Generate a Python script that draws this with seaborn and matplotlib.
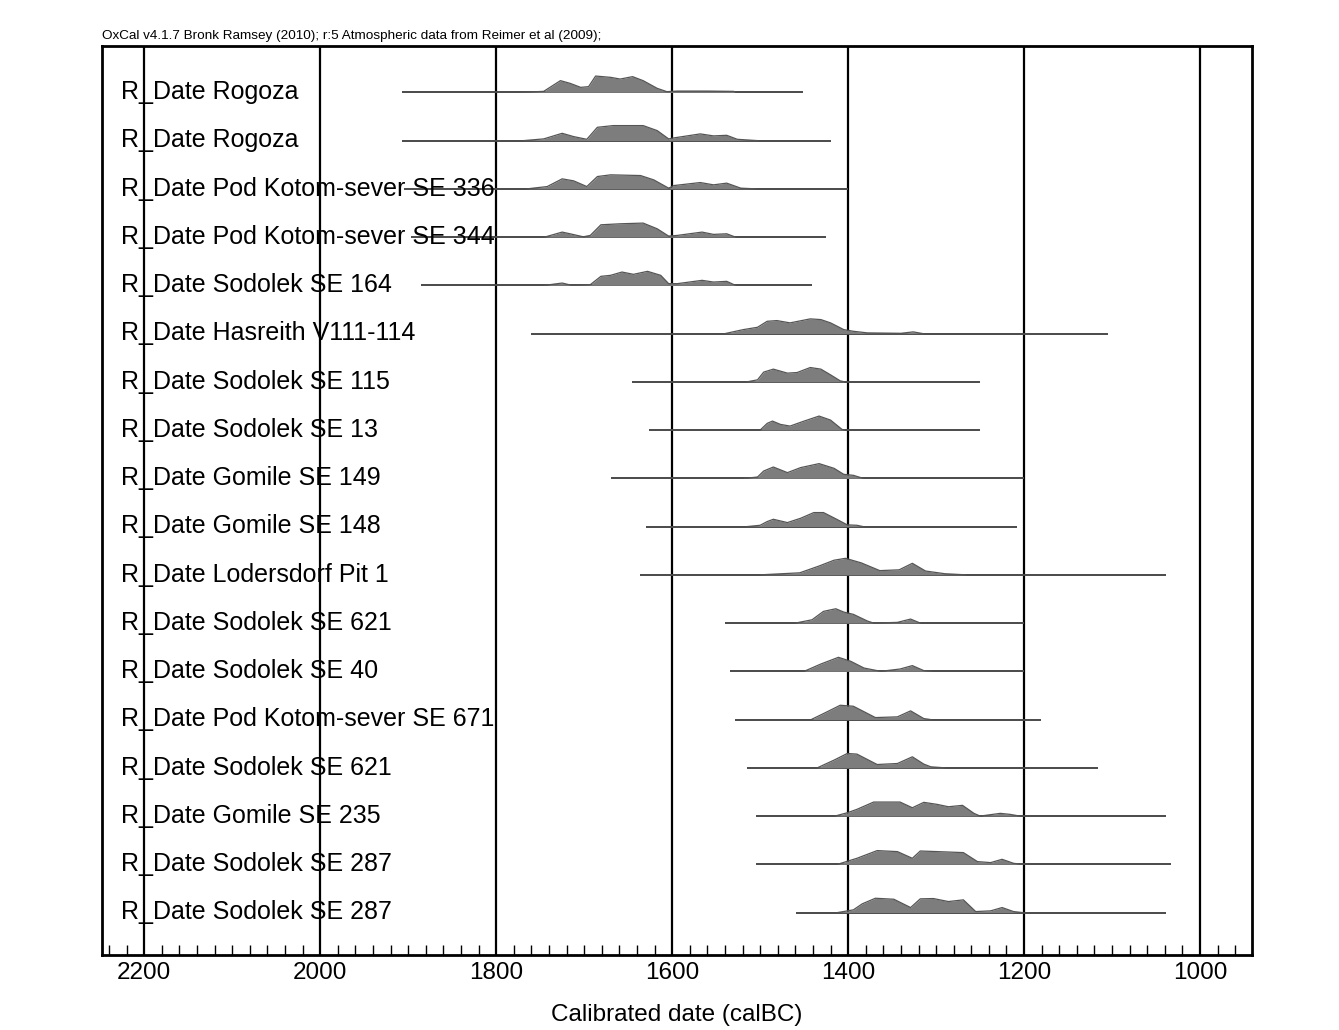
import matplotlib
matplotlib.use("Agg")
import matplotlib.pyplot as plt
import numpy as np
import pandas as pd
import seaborn as sns

sns.set_style("white")
plt.rcParams["font.family"] = ["Liberation Sans", "DejaVu Sans"]
plt.rcParams["text.color"] = "black"
plt.rcParams["xtick.color"] = "black"
plt.rcParams["axes.labelcolor"] = "black"

labels = ["R_Date Rogoza", "R_Date Rogoza", "R_Date Pod Kotom-sever SE 336",
          "R_Date Pod Kotom-sever SE 344", "R_Date Sodolek SE 164",
          "R_Date Hasreith V111-114", "R_Date Sodolek SE 115", "R_Date Sodolek SE 13",
          "R_Date Gomile SE 149", "R_Date Gomile SE 148", "R_Date Lodersdorf Pit 1",
          "R_Date Sodolek SE 621", "R_Date Sodolek SE 40", "R_Date Pod Kotom-sever SE 671",
          "R_Date Sodolek SE 621", "R_Date Gomile SE 235", "R_Date Sodolek SE 287",
          "R_Date Sodolek SE 287"]

# range of each calibrated date (calBC)
range_start = [1907, 1907, 1905, 1897, 1886, 1760, 1646, 1626, 1670, 1630, 1636,
               1540, 1534, 1529, 1515, 1505, 1505, 1459]
range_end = [1451, 1420, 1400, 1425, 1441, 1105, 1250, 1250, 1200, 1208, 1039,
             1200, 1200, 1181, 1116, 1039, 1033, 1039]

# probability distributions (relative heights)
curve_years = [
    [1772, 1746, 1727, 1716, 1704, 1695, 1687, 1670, 1659, 1645, 1633, 1617, 1606, 1594, 1560, 1530, 1528],
    [1769, 1746, 1725, 1712, 1697, 1685, 1667, 1633, 1617, 1604, 1598, 1568, 1553, 1538, 1526, 1503],
    [1765, 1742, 1725, 1712, 1697, 1685, 1670, 1636, 1621, 1604, 1598, 1568, 1553, 1538, 1522, 1505],
    [1745, 1725, 1716, 1701, 1693, 1681, 1659, 1633, 1617, 1604, 1594, 1566, 1553, 1538, 1528],
    [1745, 1725, 1714, 1693, 1681, 1670, 1657, 1644, 1628, 1613, 1604, 1594, 1566, 1553, 1538, 1528],
    [1540, 1519, 1503, 1492, 1481, 1466, 1443, 1431, 1420, 1405, 1394, 1378, 1340, 1326, 1315],
    [1515, 1503, 1496, 1485, 1469, 1458, 1443, 1431, 1420, 1409, 1404],
    [1500, 1492, 1486, 1477, 1466, 1450, 1433, 1420, 1407, 1404],
    [1518, 1503, 1496, 1485, 1469, 1454, 1433, 1416, 1405, 1394, 1383],
    [1515, 1500, 1492, 1485, 1469, 1454, 1439, 1428, 1413, 1401, 1390, 1383],
    [1500, 1455, 1433, 1416, 1403, 1385, 1364, 1342, 1327, 1312, 1290, 1266],
    [1460, 1441, 1428, 1414, 1405, 1394, 1378, 1371, 1344, 1329, 1318],
    [1450, 1431, 1411, 1397, 1382, 1363, 1341, 1327, 1314, 1305],
    [1442, 1424, 1409, 1394, 1369, 1344, 1329, 1314, 1306],
    [1435, 1416, 1401, 1390, 1367, 1344, 1327, 1314, 1306, 1290],
    [1415, 1401, 1390, 1371, 1341, 1327, 1314, 1299, 1286, 1270, 1257, 1250, 1227, 1216, 1205],
    [1412, 1390, 1367, 1344, 1327, 1318, 1299, 1269, 1253, 1238, 1225, 1212, 1202],
    [1412, 1394, 1384, 1369, 1348, 1329, 1318, 1303, 1286, 1269, 1255, 1238, 1225, 1212, 1202],
]
curve_dens = [
    [0, 1, 11.7, 9, 5, 5.7, 16.3, 15, 13.3, 15.7, 11.7, 4, 0.7, 1.3, 1.3, 1, 0],
    [0, 1.7, 7.3, 4, 1.3, 13.3, 15, 15, 10, 1.7, 2.7, 6.7, 4.7, 5.3, 1.3, 0],
    [0, 2.3, 10, 8, 2.3, 12.3, 14, 13.3, 9, 0.7, 3.3, 6.3, 4, 5.7, 0.7, 0],
    [0, 5, 3.3, 0.3, 1.7, 12.3, 13.3, 14, 8.3, 1, 1.7, 5, 2.7, 3.3, 0],
    [0, 2.3, 0, 0.7, 9, 10, 13.3, 11, 14, 10, 1.7, 1.7, 5, 3.3, 4, 0],
    [0, 4, 6.3, 12.3, 13, 10.7, 14.7, 14, 10.7, 4, 2.3, 0.7, 0.3, 1.7, 0],
    [0, 2, 9.7, 12.7, 8.7, 9.3, 14.3, 12.7, 7, 1, 0],
    [0, 6.7, 9, 5.7, 4, 9, 14, 10, 0.7, 0],
    [0, 1.3, 7.3, 11.3, 5.7, 10.7, 14.7, 10, 4, 3, 0],
    [0, 1.3, 5, 7.3, 4, 8.3, 14, 14, 7.3, 1.7, 1.3, 0],
    [0, 2, 8.8, 14.6, 16.5, 11.9, 4.2, 5, 11.5, 3.8, 1.1, 0],
    [0, 3.3, 11.7, 14.3, 11, 8.7, 2, 0, 0.7, 4, 0],
    [0, 7.3, 14, 10, 3.3, 0, 2.3, 5.7, 0.7, 0],
    [0, 7.7, 14.3, 13.3, 2, 2.7, 8.7, 1, 0],
    [0, 7.7, 14.3, 13.7, 3.3, 4.3, 11, 3.7, 1, 0],
    [0, 3.3, 6.7, 14, 14, 8.3, 13.7, 11.7, 9.3, 10.7, 2.7, 0, 2.7, 1.7, 0],
    [0, 6, 13.7, 12.7, 6, 13.3, 12.7, 11.7, 2.7, 1.7, 5, 1, 0],
    [0, 2.7, 8.7, 14.3, 13.3, 5, 13.7, 14, 11, 12.7, 1, 1.7, 5, 1, 0],
]

major_ticks = [2200, 2000, 1800, 1600, 1400, 1200, 1000]
scale = 1 / 48.2  # density height -> row units

rows = []
for i, (yrs, dens) in enumerate(zip(curve_years, curve_dens)):
    for yr, d in zip(yrs, dens):
        rows.append({"row": i, "year": yr, "top": i - d * scale})
df = pd.DataFrame(rows)

fig = plt.figure(figsize=(13.39, 10.30), dpi=100)
ax = fig.add_axes([0.0762, 0.0728, 0.8588, 0.8825])

# vertical grid at the major dates
for t in major_ticks:
    ax.axvline(t, color="black", lw=1.6, zorder=1)

# ranges
ax.hlines(np.arange(len(labels)), range_start, range_end, color="#4a4a4a", lw=1.4, zorder=2)

# distributions
for i in range(len(labels)):
    sub = df[df["row"] == i]
    ax.fill_between(sub["year"], i, sub["top"], color="#7d7d7d", lw=0, zorder=3)
sns.lineplot(data=df, x="year", y="top", units="row", estimator=None, sort=False,
             color="#555555", lw=0.9, ax=ax, zorder=4)

for i, lab in enumerate(labels):
    ax.text(2227, i + 0.14, lab, fontsize=18, va="baseline", ha="left", zorder=5)

ax.set_xlim(2248, 941)
ax.set_ylim(17.88, -0.96)
ax.set_yticks([])
ax.set_ylabel("")
ax.set_xticks(major_ticks)
ax.set_xticks(np.arange(960, 2241, 20), minor=True)
ax.tick_params(axis="x", which="major", direction="in", length=0, labelsize=17.5, pad=5)
ax.tick_params(axis="x", which="minor", direction="in", length=7, width=1, color="black", bottom=True)
ax.set_xlabel("Calibrated date (calBC)", fontsize=17.5)
ax.xaxis.set_label_coords(0.5, -0.0655)
ax.xaxis.label.set_va("center")
for s in ax.spines.values():
    s.set_color("black")
    s.set_linewidth(2)

fig.text(0.0762, 0.962, "OxCal v4.1.7 Bronk Ramsey (2010); r:5 Atmospheric data from Reimer et al (2009);",
         fontsize=9.7, ha="left", va="baseline")

fig.savefig("out.png", dpi=100)
